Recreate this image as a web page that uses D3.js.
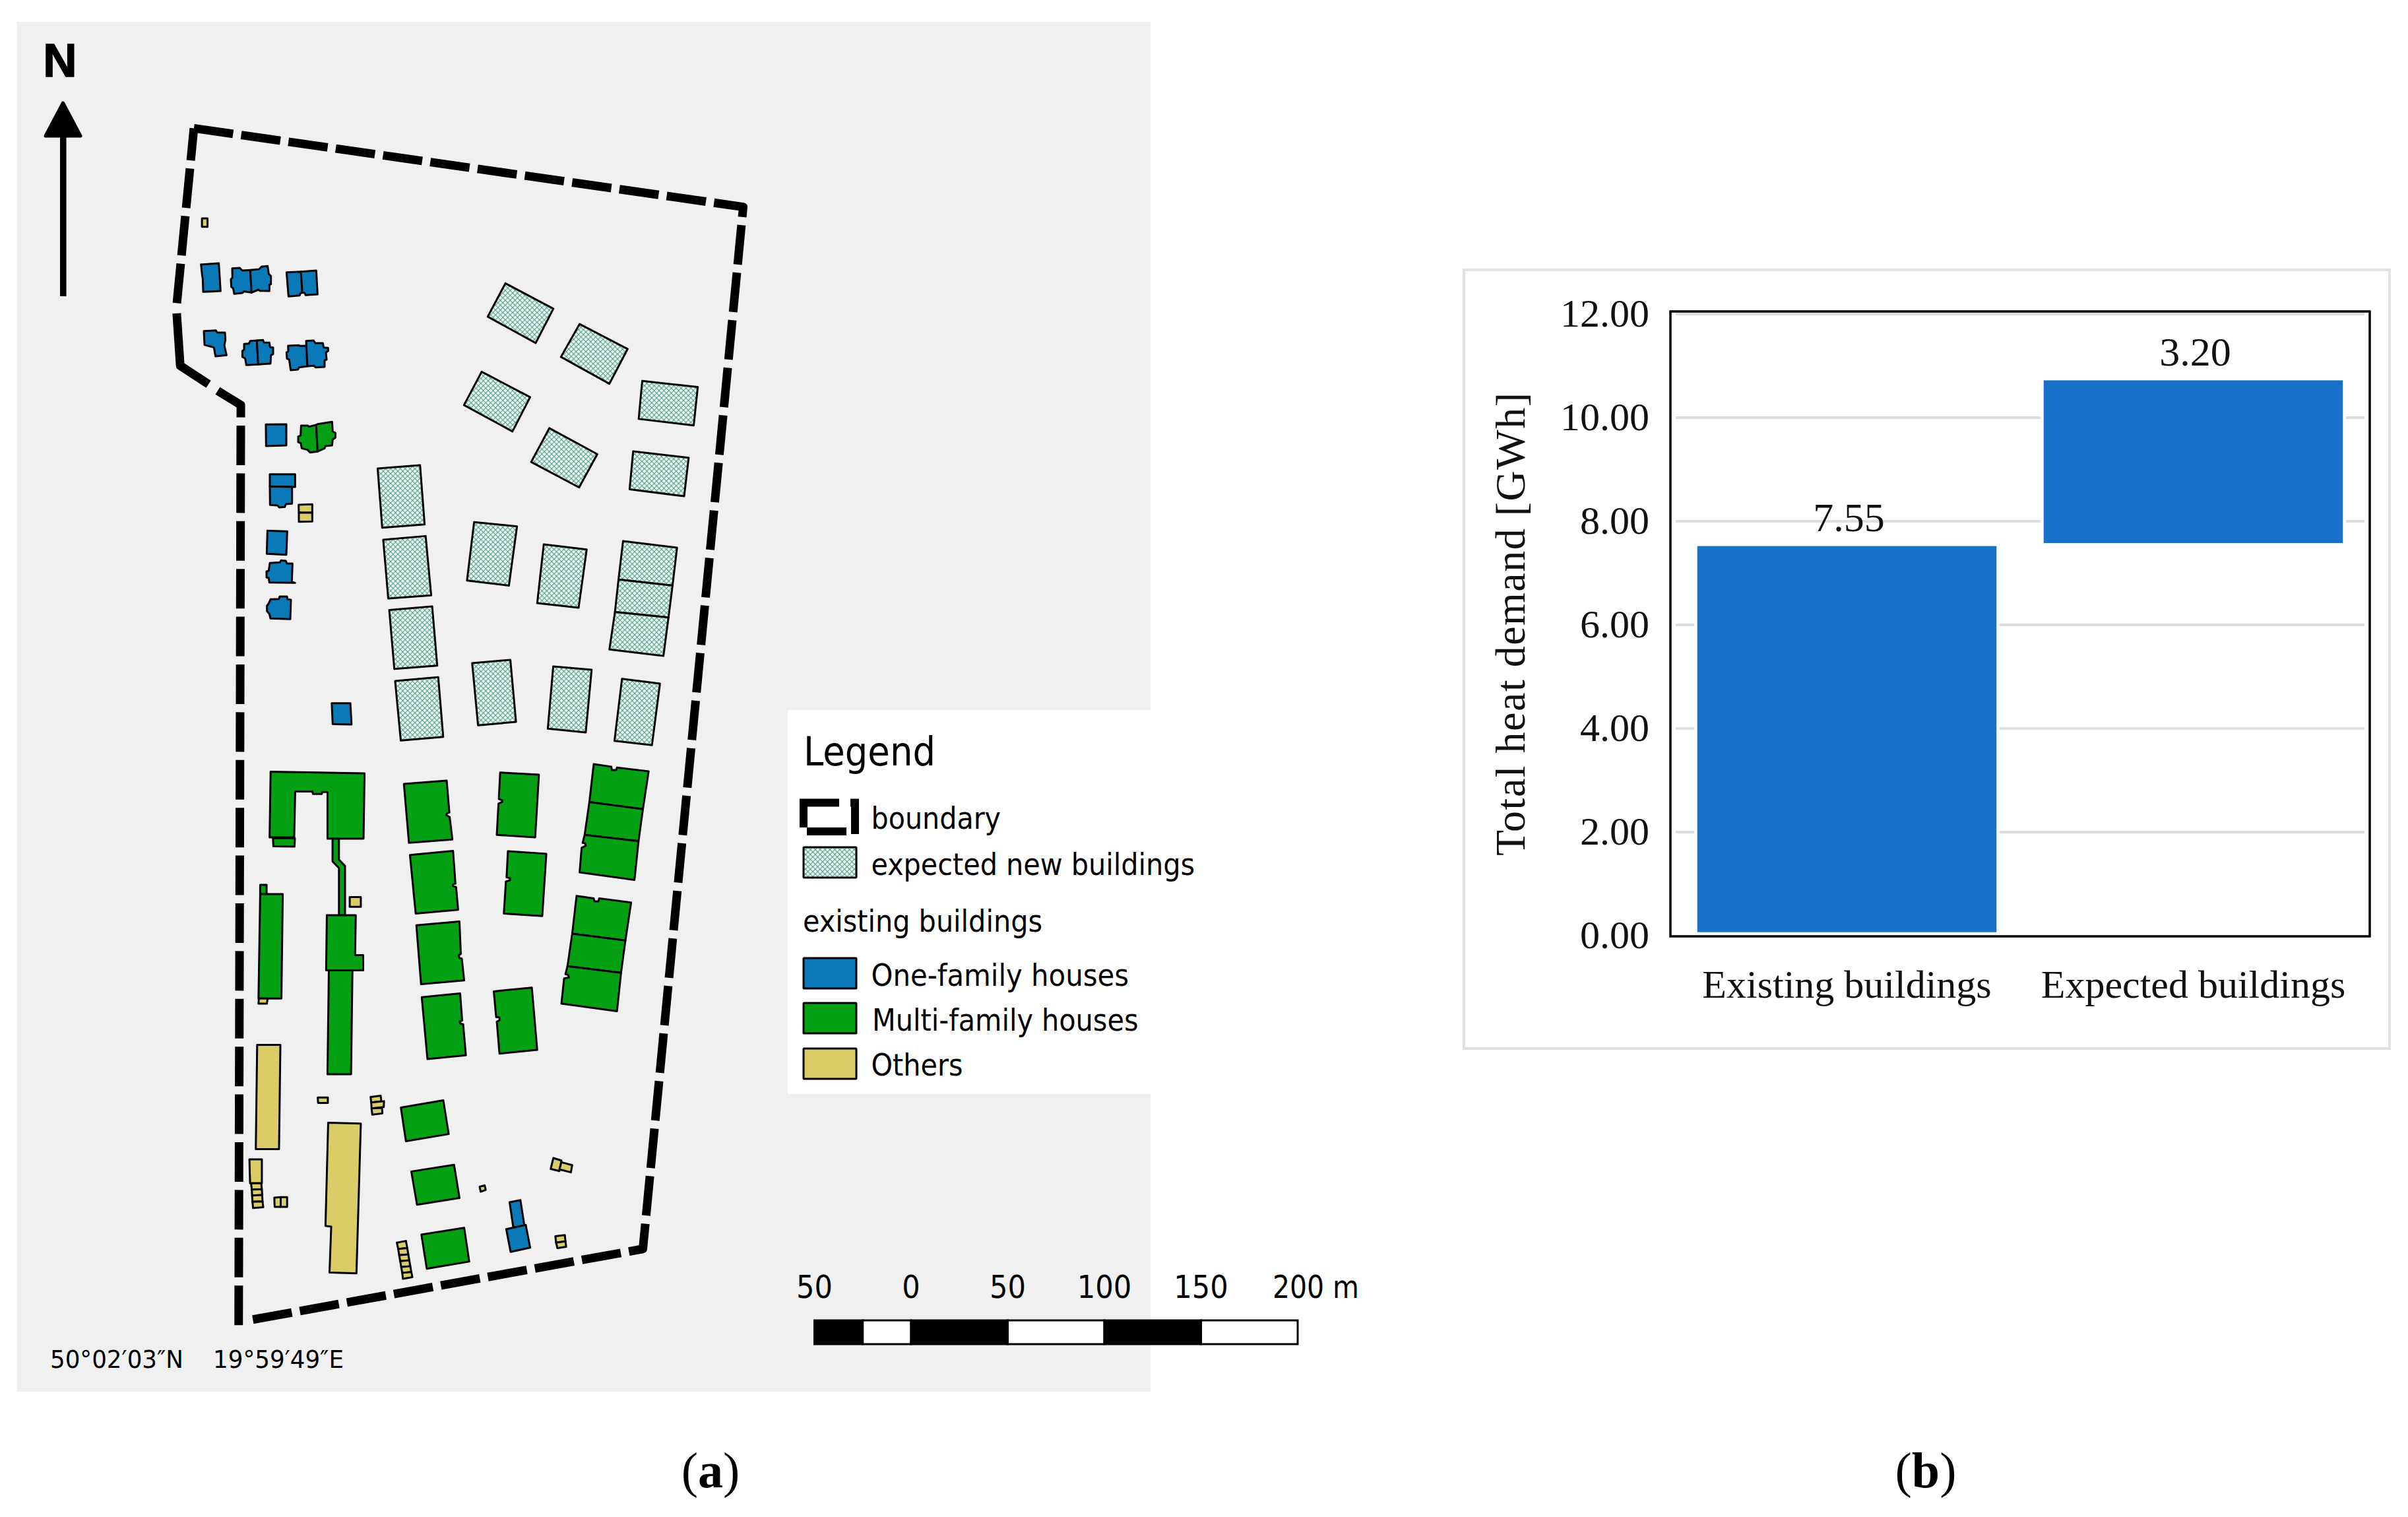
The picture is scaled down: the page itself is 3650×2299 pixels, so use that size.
<!DOCTYPE html>
<html>
<head>
<meta charset="utf-8">
<script src="https://cdn.jsdelivr.net/npm/d3@7/dist/d3.min.js"></script>
<style>
html,body{margin:0;padding:0;background:#fff}
svg{display:block}
.map text{font-family:"DejaVu Sans Condensed","DejaVu Sans",sans-serif;font-stretch:condensed;fill:#000}
.bar text{font-family:"Liberation Serif",serif;fill:#111}
</style>
</head>
<body>
<svg id="c" width="3650" height="2299" xmlns="http://www.w3.org/2000/svg"></svg>
<script>
// ---- chart (b) data
const categories = ["Existing buildings", "Expected buildings"];
const baseValues = [0, 7.55];
const addedValues = [7.55, 3.20];
const valueTicks = [0, 2, 4, 6, 8, 10, 12];

const boundaryN = [[384,277],[1472,447]];
const boundaryS = [[1322,1243],[155,1412]];
const boundaryWestS = [[121,1424]];
const boundaryWestN = [[477,875],[425,840]];
const boundaryBend = [[413,830],[357,790],[350,677]];
const boundaryNW = [[384,277],[350,658]];

const expectedN = [
 [[1001,612],[1096,667],[1061,741],[966,684]],
 [[1148,700],[1243,754],[1207,829],[1111,771]],
 [[1272,823],[1382,836],[1374,919],[1265,905]],
 [[954,803],[1050,858],[1015,932],[919,875]],
 [[1088,925],[1183,981],[1147,1053],[1052,998]],
 [[1254,975],[1364,989],[1355,1072],[1247,1057]],
 [[748,1012],[832,1005],[841,1133],[757,1140]],
 [[759,1166],[843,1158],[854,1286],[769,1293]],
 [[771,1318],[856,1310],[866,1438],[781,1445]],
 [[939,1128],[1024,1137],[1008,1265],[925,1254]],
 [[1077,1176],[1162,1187],[1146,1313],[1064,1303]],
 [[1234,1169],[1341,1183],[1332,1265],[1225,1252]],
 [[1225,1252],[1332,1265],[1324,1334],[1218,1322]],
 [[1218,1322],[1324,1334],[1314,1417],[1207,1403]]
];
const expectedM = [
 [[333,396],[516,379],[537,650],[357,667]],
 [[660,315],[822,300],[846,582],[685,598]],
 [[1004,330],[1167,345],[1142,630],[981,613]],
 [[1296,386],[1457,408],[1423,688],[1264,668]]
];
const oneFamilyA = [
 [[44,62],[52,62],[125,57],[133,183],[95,185],[54,187],[52,125],[50,118]],
 [[186,80],[220,78],[232,90],[268,88],[274,190],[240,185],[232,192],[195,196],[190,170],[182,165],[180,130],[187,122]],
 [[268,88],[308,84],[320,72],[347,70],[352,105],[362,115],[362,152],[355,155],[355,183],[312,182],[305,177],[274,190]],
 [[433,98],[498,95],[505,190],[495,195],[493,203],[442,208]],
 [[498,95],[568,90],[574,198],[520,202],[515,192],[505,190]],
 [[57,365],[112,362],[118,372],[153,372],[155,405],[150,430],[160,475],[110,480],[103,440],[60,428]],
 [[240,424],[262,422],[268,410],[298,408],[304,517],[250,520],[245,490],[232,482],[232,455],[240,450]],
 [[298,408],[326,406],[330,417],[355,418],[358,438],[372,440],[372,470],[362,475],[360,513],[304,517]],
 [[440,432],[490,430],[494,433],[522,432],[528,525],[490,530],[485,540],[452,543],[445,495],[435,490],[433,462],[441,458]],
 [[522,410],[556,408],[564,420],[598,420],[602,440],[622,442],[622,456],[612,462],[615,495],[606,498],[606,528],[565,530],[558,523],[528,525]]
];
const oneFamilyB = [
 [[39,70],[132,69],[132,165],[40,168]],
 [[57,296],[172,296],[172,354],[57,352]],
 [[57,352],[158,354],[158,430],[130,432],[125,445],[100,447],[92,438],[58,436]],
 [[46,553],[136,556],[132,662],[43,658]],
 [[57,700],[103,697],[108,688],[130,690],[135,702],[160,702],[157,786],[172,790],[55,788],[52,768],[42,765],[42,738],[52,735]],
 [[60,865],[98,863],[102,852],[135,852],[138,865],[153,867],[150,955],[60,952],[55,932],[44,918],[44,895],[55,878]]
];
const oneFamilyM = [
 [[64,497],[143,497],[148,594],[68,592]]
];
const oneFamilyS = [
 [[926,1132],[958,1127],[970,1188],[937,1192]],
 [[916,1196],[974,1186],[987,1240],[929,1250]]
];
const multiFamilyB = [
 [[199,75],[230,75],[235,80],[268,72],[274,193],[240,197],[228,185],[202,178],[198,155],[186,150],[186,125],[197,120]],
 [[268,72],[274,68],[340,58],[343,102],[355,108],[355,130],[343,138],[340,165],[310,168],[306,178],[274,193]]
];
const multiFamilyS = [
 [[216,109],[495,113],[492,268],[385,268],[385,157],[370,157],[368,162],[342,162],[340,156],[289,156],[286,265],[213,265]],
 [[223,267],[288,267],[287,287],[224,286]],
 [[400,268],[419,268],[419,318],[437,333],[437,450],[419,450],[419,338],[400,322]],
 [[389,581],[459,581],[455,828],[385,828]],
 [[383,450],[469,450],[467,545],[491,545],[491,581],[381,581]],
 [[185,378],[204,378],[204,400],[185,400]],
 [[185,400],[252,400],[248,648],[180,648]],
 [[612,138],[739,130],[747,206],[740,208],[738,212],[748,217],[756,270],[627,278]],
 [[630,307],[758,297],[765,375],[758,377],[758,381],[767,383],[773,437],[647,446]],
 [[649,474],[777,465],[781,542],[775,545],[777,552],[784,553],[791,605],[663,614]],
 [[665,645],[779,636],[785,700],[778,703],[780,708],[788,709],[796,783],[682,792]],
 [[898,111],[1013,116],[1002,265],[888,259],[893,185],[904,181],[904,177],[894,174]],
 [[921,298],[1035,304],[1023,452],[909,446],[915,370],[927,367],[927,362],[917,360]],
 [[879,631],[992,622],[1008,770],[896,779],[888,703],[896,700],[896,693],[886,692]],
 [[1176,91],[1228,97],[1230,105],[1243,105],[1245,99],[1339,108],[1322,198],[1163,181]],
 [[1163,181],[1322,198],[1309,274],[1149,259]],
 [[1149,259],[1309,274],[1297,366],[1134,348],[1140,290],[1152,285],[1150,279],[1143,278]],
 [[1125,404],[1176,410],[1178,417],[1190,417],[1192,410],[1287,420],[1270,510],[1112,494]],
 [[1112,494],[1270,510],[1257,587],[1098,571]],
 [[1098,571],[1257,587],[1245,678],[1080,660],[1088,600],[1102,598],[1100,592],[1092,590]],
 [[603,907],[729,890],[745,970],[618,987]],
 [[634,1059],[761,1043],[777,1122],[651,1138]],
 [[664,1209],[791,1193],[806,1273],[680,1290]]
];
const othersN = [
 [[400,472],[411,472],[411,490],[400,490]]
];
const othersB = [
 [[188,435],[250,433],[250,470],[189,471]],
 [[189,471],[250,470],[250,511],[189,512]]
];
const othersS = [
 [[181,648],[207,648],[205,660],[180,660]],
 [[176,758],[245,758],[241,1006],[172,1006]],
 [[387,943],[484,945],[471,1301],[391,1299],[396,1190],[379,1188]],
 [[451,407],[484,407],[484,430],[451,430]],
 [[356,883],[386,883],[386,896],[357,896]],
 [[513,882],[543,879],[545,892],[515,895]],
 [[515,895],[553,892],[552,906],[516,909]],
 [[516,909],[547,908],[548,921],[518,924]],
 [[153,1030],[190,1030],[190,1087],[155,1087]],
 [[158,1087],[188,1087],[190,1101],[160,1102]],
 [[160,1102],[190,1101],[191,1115],[161,1116]],
 [[161,1116],[191,1115],[192,1130],[162,1131]],
 [[162,1131],[192,1130],[194,1144],[164,1146]],
 [[227,1121],[246,1120],[246,1143],[228,1143]],
 [[246,1120],[265,1120],[265,1143],[246,1143]],
 [[591,1228],[618,1224],[622,1241],[595,1243]],
 [[595,1243],[622,1241],[625,1256],[598,1258]],
 [[598,1258],[625,1256],[628,1270],[601,1272]],
 [[601,1272],[628,1270],[631,1284],[604,1286]],
 [[604,1286],[631,1284],[634,1298],[607,1300]],
 [[607,1300],[634,1298],[637,1310],[609,1314]],
 [[837,1095],[852,1092],[855,1103],[840,1107]],
 [[1056,1027],[1080,1033],[1074,1058],[1048,1053]],
 [[1080,1037],[1112,1044],[1108,1061],[1074,1054]],
 [[1062,1213],[1090,1210],[1092,1225],[1064,1228]],
 [[1064,1228],[1092,1225],[1094,1238],[1068,1241]]
];
const scaleMetres = [-50, -25, 0, 50, 100, 150, 200];
const scaleLabels = [-50, 0, 50, 100, 150];

const legendKeys = ["boundary", "expected new buildings", "existing buildings", "One-family houses", "Multi-family houses", "Others"];

// ---- colours
const cBlue = "#0a79b8", cGreen = "#02a012", cYellow = "#dacd68", cBar = "#1972c8";

const svg = d3.select("#c");
const defs = svg.append("defs");
const pat = defs.append("pattern").attr("id","hatch").attr("patternUnits","userSpaceOnUse")
  .attr("width",7.4).attr("height",7.4);
pat.append("rect").attr("width",7.4).attr("height",7.4).attr("fill","#e8f7f2");
pat.append("path").attr("d","M0 0L7.4 7.4M7.4 0L0 7.4").attr("stroke","#47917f").attr("stroke-width",0.95).attr("fill","none");

// crop projections
const proj = (x0,x1,y0,y1,wMax,hMax) => {
  const sx = d3.scaleLinear([0,wMax],[x0,x1]), sy = d3.scaleLinear([0,hMax],[y0,y1]);
  return p => [sx(p[0]), sy(p[1])];
};
const pN = proj(0,1200,0,1100,1568,1568);
const pS = proj(300,1100,1100,2100,1568,1568);
const pM = proj(480,1040,900,1180,1568,840);
const pA = proj(290,510,380,580,660,600);
const pB = proj(390,530,620,950,420,990);

const line = d3.line();
const map = svg.append("g").attr("class","map");
map.append("rect").attr("x",26).attr("y",33).attr("width",1718).attr("height",2076).attr("fill","#f0f0f0");

function drawPolys(rings, project, fill){
  map.append("g").selectAll("path").data(rings).join("path")
    .attr("d", r => line(r.map(project)) + "Z")
    .attr("fill", fill).attr("stroke","#000").attr("stroke-width",3).attr("stroke-linejoin","round");
}
drawPolys(expectedN,pN,"url(#hatch)");
drawPolys(expectedM,pM,"url(#hatch)");
drawPolys(oneFamilyA,pA,cBlue);
drawPolys(oneFamilyB,pB,cBlue);
drawPolys(oneFamilyM,pM,cBlue);
drawPolys(oneFamilyS,pS,cBlue);
drawPolys(multiFamilyB,pB,cGreen);
drawPolys(multiFamilyS,pS,cGreen);
drawPolys(othersN,pN,cYellow);
drawPolys(othersB,pB,cYellow);
drawPolys(othersS,pS,cYellow);

// boundary
function boundary(pts, dash, offset){
  const p = map.append("path").attr("d",line(pts)).attr("fill","none").attr("stroke","#000")
    .attr("stroke-width",13).attr("stroke-linejoin","round");
  if(dash) p.attr("stroke-dasharray",dash).attr("stroke-dashoffset",offset||0);
}
boundary([...boundaryN.map(pN), ...boundaryS.map(pS)], "60 12.4", 0);
boundary([...boundaryWestS.map(pS), ...boundaryWestN.map(pN)], "60 12.4", 0);
boundary(boundaryBend.map(pN));
boundary(boundaryNW.map(pN), "60 12.4", 11);

// north arrow
map.append("text").attr("x",91).attr("y",116).attr("text-anchor","middle")
  .style("font-family","'Liberation Sans',sans-serif").style("font-weight","bold").style("font-stretch","normal").style("font-size","71px")
  .attr("stroke","#000").attr("stroke-width",1.5).text("N");
map.append("path").attr("d",line([[95.5,156],[122,206],[69,206]])+"Z").attr("fill","#000").attr("stroke","#000").attr("stroke-width",5).attr("stroke-linejoin","round");
map.append("rect").attr("x",91).attr("y",206).attr("width",9.5).attr("height",243).attr("fill","#000");

function fitted(x,y,size,len,txt,parent){
  return (parent||map).append("text").attr("x",x).attr("y",y).style("font-size",size+"px")
    .attr("textLength",len).attr("lengthAdjust","spacingAndGlyphs").text(txt);
}
// coordinates
fitted(76,2073,37,202,"50°02′03″N");
fitted(323,2073,37,198,"19°59′49″E");

// legend
map.append("rect").attr("x",1194).attr("y",1076).attr("width",550).attr("height",582).attr("fill","#fff");
fitted(1218,1160,60,200,"Legend");
const legendGeom = [[1320.5,1256,196.5],[1320.5,1325.5,490.5],[1217,1412,363],[1320.5,1493.5,390.5],[1322,1562,403.5],[1320.5,1630,139]];
legendKeys.forEach((t,i)=>fitted(legendGeom[i][0],legendGeom[i][1],47,legendGeom[i][2],t));
[[1284,"url(#hatch)"],[1452,cBlue],[1520,cGreen],[1589,cYellow]].forEach(([y,f])=>{
  map.append("rect").attr("x",1218).attr("y",y).attr("width",80).attr("height",46).attr("fill",f).attr("stroke","#000").attr("stroke-width",3).attr("rx",1);
});
[[[1218,1254],[1218,1216.5],[1272,1216.5]],[[1289,1216.5],[1296,1216.5],[1296,1264]],[[1283,1260],[1223,1260]]].forEach(seg=>{
  map.append("path").attr("d",line(seg)).attr("fill","none").attr("stroke","#000").attr("stroke-width",12);
});

// scale bar
const sb = d3.scaleLinear([0,200],[1381,1967]);
const sbY0 = 2001, sbH = 36;
d3.pairs(scaleMetres).forEach(([a,b],i)=>{
  map.append("rect").attr("x",sb(a)).attr("y",sbY0).attr("width",sb(b)-sb(a)).attr("height",sbH)
    .attr("fill", i%2===0 ? "#000" : "#fff").attr("stroke","#000").attr("stroke-width",3);
});
scaleLabels.forEach(m=>{
  const t = String(Math.abs(m));
  map.append("text").attr("x",sb(m)).attr("y",1967).attr("text-anchor","middle").style("font-size","48px").text(t);
});
fitted(1929,1967,48,131,"200 m");

// panel labels
svg.append("text").attr("x",1077).attr("y",2254).attr("text-anchor","middle")
  .style("font-family","'Liberation Serif',serif").style("font-size","76px").html('(<tspan font-weight="bold">a</tspan>)');
svg.append("text").attr("x",2919).attr("y",2254).attr("text-anchor","middle")
  .style("font-family","'Liberation Serif',serif").style("font-size","76px").html('(<tspan font-weight="bold">b</tspan>)');

// ---- bar chart
const bar = svg.append("g").attr("class","bar");
bar.append("rect").attr("x",2219).attr("y",409).attr("width",1403).attr("height",1180)
  .attr("fill","#fff").attr("stroke","#e2e2e2").attr("stroke-width",4);

const plot = {l:2532,r:3592,t:472,b:1419};
const y = d3.scaleLinear([0,12],[1418,476]);
const x = d3.scaleBand(categories,[plot.l,plot.r]).paddingInner(0.1276).paddingOuter(0.0733);
const baseInset = v => v === 0 ? 3 : 0;

// gridlines
bar.append("g").selectAll("line").data(valueTicks.slice(1)).join("line")
  .attr("x1",plot.l+8).attr("x2",plot.r-8).attr("y1",d=>y(d)).attr("y2",d=>y(d))
  .attr("stroke","#dedede").attr("stroke-width",4);

// bars
bar.append("g").selectAll("rect").data(categories).join("rect")
  .attr("x",d=>x(d)).attr("width",x.bandwidth())
  .attr("y",(d,i)=>y(baseValues[i]+addedValues[i]))
  .attr("height",(d,i)=>y(baseValues[i])-y(baseValues[i]+addedValues[i])-baseInset(baseValues[i]))
  .attr("fill",cBar).attr("stroke","#fff").attr("stroke-width",4.5);

// frame
bar.append("rect").attr("x",plot.l).attr("y",plot.t).attr("width",plot.r-plot.l).attr("height",plot.b-plot.t)
  .attr("fill","none").attr("stroke","#000").attr("stroke-width",3.5);

// axes
const ay = bar.append("g").attr("transform",`translate(${plot.l},0)`)
  .call(d3.axisLeft(y).tickValues(valueTicks).tickFormat(d3.format(".2f")).tickSize(0).tickPadding(32));
ay.select(".domain").remove();
ay.selectAll("text").style("font-size","60px").style("font-family","'Liberation Serif',serif").attr("fill","#111").attr("dy","0.3em");

const ax = bar.append("g").attr("transform",`translate(0,${plot.b})`)
  .call(d3.axisBottom(x).tickSize(0).tickPadding(0));
ax.select(".domain").remove();
ax.selectAll("text").style("font-size","60px").style("font-family","'Liberation Serif',serif").attr("fill","#111").attr("dy",0).attr("y",93);

// value labels
bar.append("g").selectAll("text").data(categories).join("text")
  .attr("x",d=>x(d)+x.bandwidth()/2+3).attr("y",(d,i)=>y(baseValues[i]+addedValues[i])-20)
  .attr("text-anchor","middle").style("font-size","62px").text((d,i)=>addedValues[i].toFixed(2));

// y title
bar.append("text").attr("transform","translate(2311,946) rotate(-90)").attr("text-anchor","middle")
  .style("font-size","64px").attr("fill","#333").attr("textLength",702).attr("lengthAdjust","spacing").text("Total heat demand [GWh]");
</script>
</body>
</html>
